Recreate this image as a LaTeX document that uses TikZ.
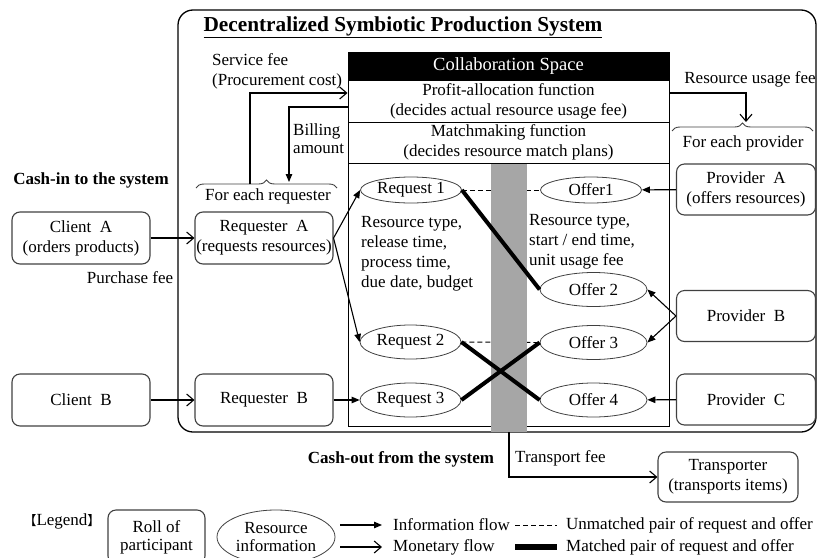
\documentclass[tikz,border=0pt]{standalone}
\usepackage{fontspec}
\setmainfont{Liberation Serif}
\newfontfamily\cjk{Noto Sans CJK SC}
\usetikzlibrary{arrows.meta,shapes.geometric,decorations.pathreplacing}
\tikzset{
    role/.style={draw=black!75, line width=1.1pt, rounded corners=8pt, align=center,
            minimum width=138pt, minimum height=52pt, inner sep=0pt},
    resource/.style={draw=black!75, line width=0.8pt, ellipse, align=center,
            minimum width=101pt, minimum height=26pt, inner sep=0pt},
    tall resource/.style={resource, minimum height=34pt},
    info flow/.style={line width=1.1pt, -{Triangle[length=8pt,width=6.5pt]}},
    money flow/.style={line width=1.1pt, -{Straight Barb[length=7pt,width=12pt]}},
    unmatched/.style={line width=0.9pt, dash pattern=on 5pt off 3pt},
    matched/.style={line width=4pt},
    rowbox/.style={draw, line width=1pt, minimum width=321pt, inner sep=0pt, align=center},
    group brace/.style={decorate, decoration={brace, amplitude=8pt}, line width=0.9pt, draw=black!75},
    bold label/.style={font=\fontsize{17}{20}\selectfont\bfseries},
}

\begin{document}
\begin{tikzpicture}[x=1pt, y=-1pt, font=\fontsize{17}{20}\selectfont]
    \useasboundingbox (0,0) rectangle (818,557);
    \clip (0,0) rectangle (818,557);
    %draw system frame
    \draw[line width=1.3pt, rounded corners=15pt] (178,10) rectangle (816,432);
    \node[font=\fontsize{21.3}{24}\selectfont\bfseries] (title) at (403,27) {\underline{Decentralized Symbiotic Production System}};
    %draw collaboration space
    \node[rowbox, fill=black, text=white, minimum height=28pt, font=\fontsize{18.5}{20}\selectfont] (header) at (508.5,66) {Collaboration Space};
    \node[rowbox, minimum height=42pt] (profit) at (508.5,101) {Profit-allocation function\\(decides actual resource usage fee)};
    \node[rowbox, minimum height=41pt] (match) at (508.5,142.5) {Matchmaking function\\(decides resource match plans)};
    \node[rowbox, minimum height=263pt] (space) at (508.5,294.5) {};
    %draw requests and offers
    \node[resource] (req1) at (411,190) {Request 1};
    \node[tall resource] (req2) at (410.5,342) {Request 2};
    \node[tall resource] (req3) at (410.5,400) {Request 3};
    \node[resource] (off1) at (591,190) {Offer1};
    \node[tall resource, minimum width=107pt] (off2) at (593.5,289.5) {Offer 2};
    \node[tall resource, minimum width=107pt] (off3) at (593.5,342.5) {Offer 3};
    \node[tall resource, minimum width=107pt] (off4) at (593.5,400) {Offer 4};
    \node[anchor=north west, align=left, inner sep=0pt] (reqattr) at (361,216) {Resource type,\\release time,\\process time,\\due date, budget};
    \node[anchor=north west, align=left, inner sep=0pt] (offattr) at (529,214) {Resource type,\\start / end time,\\unit usage fee};
    %draw pairs of request and offer
    \draw[unmatched] (req1.east) -- (off1.west);
    \draw[unmatched] (req2.east) -- (off3.west);
    \fill[black!35] (491,163.6) rectangle (527,431.5);
    \draw[matched] (req1.east) -- (off2.west);
    \draw[matched] (req2.east) -- (off4.west);
    \draw[matched] (req3.east) -- (off3.west);
    %draw participants
    \node[role] (cliA) at (81,238) {Client~~A\\(orders products)};
    \node[role] (cliB) at (81,400) {Client~~B};
    \node[role] (reqA) at (264,238) {Requester~~A\\(requests resources)};
    \node[role] (reqB) at (264,400) {Requester~~B};
    \node[role, minimum width=139pt, minimum height=51pt] (provA) at (746,189.5) {Provider~~A\\(offers resources)};
    \node[role, minimum width=139pt, minimum height=51pt] (provB) at (746,316) {Provider~~B};
    \node[role, minimum width=139pt, minimum height=51pt] (provC) at (746,399.5) {Provider~~C};
    \node[role, minimum width=140pt, minimum height=50pt] (trans) at (728,477) {Transporter\\(transports items)};
    %draw information flows
    \draw[info flow] (reqA.east) -- (req1.west);
    \draw[info flow] (reqA.east) -- (req2.west);
    \draw[info flow] (reqB) -- (req3);
    \draw[info flow] (provA) -- (off1);
    \draw[info flow] (provB.west) -- (off2.east);
    \draw[info flow] (provB.west) -- (off3.east);
    \draw[info flow] (provC) -- (off4);
    %draw braces
    \draw[group brace] (196,188) -- (337,188);
    \draw[group brace] (672,131) -- (813,131);
    \coordinate (sfstart) at (250,184);
    \coordinate (billend) at (289,182);
    \coordinate (rufend) at (746,122);
    \coordinate (tfstart) at (509,432);
    %draw monetary flows
    \draw[money flow] (cliA) -- (reqA);
    \draw[money flow] (cliB) -- (reqB);
    \draw[money flow] (sfstart) |- (profit.west |- 0,93);
    \draw[info flow] (profit.west |- 0,107) -| (billend);
    \draw[money flow] (profit.east |- 0,93) -| (rufend);
    \draw[money flow] (tfstart) |- (trans.west);
    %draw labels
    \node[align=left, anchor=west, inner sep=0pt] (sflabel) at (212,71) {Service fee\\(Procurement cost)};
    \node[align=left, anchor=west, inner sep=0pt] (billlabel) at (293,139) {Billing\\[-2pt]amount};
    \node (ruflabel) at (750,79) {Resource usage fee};
    \node (provgroup) at (743,143) {For each provider};
    \node (reqgroup) at (268,196) {For each requester};
    \node (pflabel) at (130,278) {Purchase fee};
    \node[anchor=west, inner sep=0pt] (tflabel) at (515,458) {Transport fee};
    \node[bold label] (cashin) at (91,180) {Cash-in to the system};
    \node[bold label] (cashout) at (401,459) {Cash-out from the system};
    %draw legend
    \node (legend) at (62,521) {{\cjk\fontsize{13}{13}\selectfont 【}Legend{\cjk\fontsize{13}{13}\selectfont 】}};
    \node[role, minimum width=97pt, minimum height=54pt] (legrole) at (156.5,537) {Roll of\\[-2pt]participant};
    \node[resource, minimum width=118pt, minimum height=54pt] (legres) at (276,537) {Resource\\[-2pt]information};
    \coordinate (infoA) at (340,525);
    \coordinate (infoB) at (382,525);
    \coordinate (moneyA) at (340,547);
    \coordinate (moneyB) at (382,547);
    \coordinate (unmA) at (515,525);
    \coordinate (unmB) at (557,525);
    \coordinate (matA) at (515,547);
    \coordinate (matB) at (557,547);
    \draw[info flow] (infoA) -- (infoB);
    \draw[money flow] (moneyA) -- (moneyB);
    \draw[unmatched] (unmA) -- (unmB);
    \draw[line width=6pt] (matA) -- (matB);
    \node[anchor=west, inner sep=0pt] (infotext) at (393,525) {Information flow};
    \node[anchor=west, inner sep=0pt] (moneytext) at (393,547) {Monetary flow};
    \node[anchor=west, inner sep=0pt] (unmtext) at (566,525) {Unmatched pair of request and offer};
    \node[anchor=west, inner sep=0pt] (mattext) at (566,547) {Matched pair of request and offer};
\end{tikzpicture}
\end{document}
